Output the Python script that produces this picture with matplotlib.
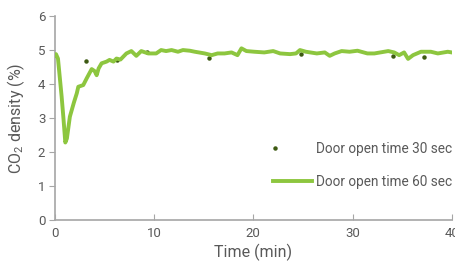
import matplotlib.pyplot as plt
import numpy as np
from matplotlib.legend_handler import HandlerLine2DCompound

plt.rcParams['font.family'] = ['Roboto', 'DejaVu Sans']

# Door open time 30 sec (points visible off the 60 sec curve)
t30 = [3.1, 6.3, 9.3, 15.5, 24.8, 34.1, 37.2]
co2_30 = [4.68, 4.71, 4.94, 4.78, 4.88, 4.83, 4.80]

# Door open time 60 sec
t60 = [0.0, 0.1, 0.3, 0.67, 0.85, 1.04, 1.2, 1.5, 1.9, 2.2, 2.35, 2.85, 3.2,
       3.7, 4.0, 4.2, 4.4, 4.7, 5.2, 5.5, 5.9, 6.2, 6.6, 7.2, 7.7, 8.2, 8.7,
       9.4, 10.2, 10.7, 11.2, 11.75, 12.4, 12.9, 13.6, 14.1, 15.1, 15.8,
       16.4, 17.1, 17.8, 18.4, 18.8, 19.3, 20.1, 21.1, 22.0, 22.7, 23.7,
       24.3, 24.7, 25.3, 26.4, 27.2, 27.7, 28.2, 28.9, 29.7, 30.5, 31.5,
       32.2, 33.6, 34.2, 34.7, 35.2, 35.6, 36.1, 36.9, 37.9, 38.6, 39.6, 40.0]
co2_60 = [4.85, 4.88, 4.75, 3.63, 3.0, 2.28, 2.4, 3.04, 3.45, 3.73, 3.92,
          3.97, 4.17, 4.44, 4.38, 4.26, 4.46, 4.61, 4.66, 4.71, 4.66, 4.75,
          4.72, 4.9, 4.97, 4.83, 4.97, 4.9, 4.9, 5.0, 4.97, 5.0, 4.95, 5.0,
          4.98, 4.95, 4.9, 4.85, 4.9, 4.9, 4.93, 4.85, 5.05, 4.97, 4.95,
          4.93, 4.97, 4.9, 4.88, 4.9, 5.0, 4.95, 4.9, 4.93, 4.83, 4.9, 4.97,
          4.95, 4.98, 4.9, 4.9, 4.97, 4.93, 4.85, 4.93, 4.74, 4.85, 4.95,
          4.95, 4.9, 4.95, 4.93]

gray = '#a6a6a6'
txt = '#595959'


class LeftMarker(HandlerLine2DCompound):
    # legend marker drawn at the left end of the handle box
    def get_xdata(self, legend, xdescent, ydescent, width, height, fontsize):
        xdata, _ = super().get_xdata(legend, xdescent, ydescent, width,
                                     height, fontsize)
        return xdata, np.array([-xdescent + 1.5])


fig = plt.figure(figsize=(4.56, 2.72), dpi=100)
ax = fig.add_axes([0.1206, 0.191, 0.870, 0.750])

dots, = ax.plot(t30, co2_30, linestyle='none', marker='o', markersize=2.2,
                color='#3d5a12', label='Door open time 30 sec', zorder=2)
ax.plot(t60, co2_60, color='#8dc63f', lw=2.8, label='Door open time 60 sec',
        zorder=3, solid_joinstyle='round')

ax.set_xlim(0, 40)
ax.set_ylim(0, 6)
ax.set_xticks([0, 10, 20, 30, 40])
ax.set_yticks(range(7))

for s in ['top', 'right']:
    ax.spines[s].set_visible(False)
for s in ['left', 'bottom']:
    ax.spines[s].set_color(gray)
    ax.spines[s].set_linewidth(1.2)
ax.tick_params(axis='y', direction='out', length=4, color=gray,
               labelcolor=txt, labelsize=9.5, pad=3)
ax.tick_params(axis='x', direction='in', length=4, color=gray,
               labelcolor=txt, labelsize=9.5, pad=5)

ax.set_xlabel('Time (min)', fontsize=11.5, color=txt, labelpad=3)
ax.set_ylabel('CO$_\\mathregular{2}$ density (%)', fontsize=11.5, color=txt,
              labelpad=8)

leg = ax.legend(loc='upper left', bbox_to_anchor=(0.549, 0.385),
                frameon=False, fontsize=9.8, handlelength=2.85,
                handletextpad=0.3, labelspacing=1.4, labelcolor=txt,
                borderpad=0, borderaxespad=0,
                handler_map={dots: LeftMarker(numpoints=1)})

fig.savefig('out.png', dpi=100)
